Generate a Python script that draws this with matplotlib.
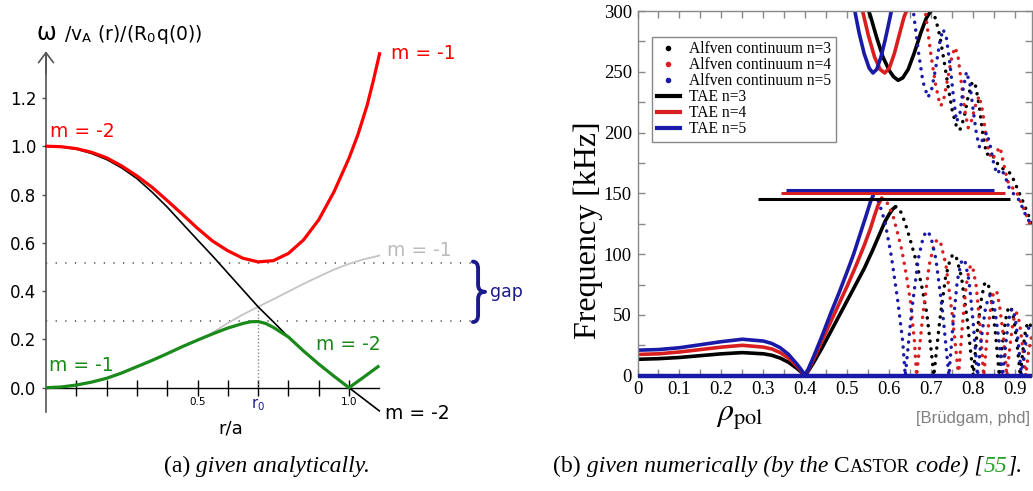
import numpy as np
import matplotlib
matplotlib.use("Agg")
import matplotlib.pyplot as plt
from matplotlib.lines import Line2D
from matplotlib.path import Path
from matplotlib.patches import PathPatch
from matplotlib.ticker import MultipleLocator

plt.rcParams['mathtext.fontset'] = 'stix'

# ---------------- panel (a): analytic continuum ----------------
red_r = [0, 0.05, 0.10, 0.15, 0.20, 0.25, 0.30, 0.35, 0.40, 0.45, 0.50, 0.55, 0.60, 0.65, 0.70,
         0.75, 0.80, 0.85, 0.90, 0.95, 1.00, 1.03, 1.06, 1.08, 1.102]
red_w = [1.0, 0.998, 0.99, 0.975, 0.952, 0.918, 0.877, 0.83, 0.775, 0.718, 0.66, 0.607, 0.567, 0.536, 0.521,
         0.526, 0.556, 0.612, 0.695, 0.81, 0.95, 1.05, 1.17, 1.27, 1.389]

black_r = [0, 0.05, 0.10, 0.15, 0.20, 0.25, 0.30, 0.35, 0.40, 0.45, 0.50, 0.55, 0.60, 0.65, 0.70,
           0.75, 0.80, 0.85, 0.90, 0.95, 1.0, 1.05, 1.1]
black_w = [1.0, 0.997, 0.988, 0.97, 0.945, 0.91, 0.866, 0.81, 0.748, 0.68, 0.612, 0.545, 0.475, 0.405, 0.335,
           0.273, 0.21, 0.152, 0.098, 0.048, 0.0, -0.048, -0.096]

gray_r = [0.55, 0.60, 0.65, 0.70, 0.75, 0.80, 0.85, 0.90, 0.95, 1.0, 1.05, 1.1]
gray_w = [0.228, 0.268, 0.303, 0.335, 0.366, 0.398, 0.43, 0.46, 0.489, 0.513, 0.532, 0.547]

green_r = [0, 0.05, 0.10, 0.15, 0.20, 0.25, 0.30, 0.35, 0.40, 0.45, 0.50, 0.55, 0.60, 0.65, 0.675,
           0.70, 0.725, 0.75, 0.775, 0.80, 0.85, 0.90, 0.95, 1.0, 1.05, 1.1]
green_w = [0, 0.003, 0.011, 0.023, 0.039, 0.061, 0.087, 0.113, 0.141, 0.17, 0.197, 0.223, 0.247, 0.266, 0.273,
           0.274, 0.266, 0.25, 0.23, 0.21, 0.152, 0.098, 0.048, 0.0, 0.045, 0.091]

gap_hi, gap_lo = 0.518, 0.276
r0, cross_w = 0.70, 0.335
a_yticks = [0.0, 0.2, 0.4, 0.6, 0.8, 1.0, 1.2]
a_xticks = [0.1, 0.2, 0.3, 0.4, 0.5, 0.6, 0.7, 0.8, 0.9, 1.0]
a_xticklabels = ['', '', '', '', '0.5', '', r'r$_\mathregular{0}$', '', '', '1.0']

# ---------------- panel (b): CASTOR continuum ----------------
rho_lo_n3 = [0, 0.05, 0.10, 0.15, 0.20, 0.25, 0.30, 0.32, 0.34, 0.36, 0.38, 0.39, 0.40,
             0.42, 0.44, 0.46, 0.48, 0.50, 0.52, 0.54, 0.56, 0.575, 0.59, 0.60, 0.608, 0.615,
             0.622, 0.63, 0.641, 0.653, 0.665, 0.677, 0.689, 0.700, 0.706,
             0.720, 0.734, 0.746, 0.753, 0.760, 0.772, 0.786, 0.800,
             0.809, 0.819, 0.826, 0.831, 0.836, 0.843, 0.853, 0.862,
             0.8695, 0.877, 0.883, 0.887, 0.891, 0.897, 0.9045, 0.912,
             0.918, 0.924, 0.929, 0.932, 0.936, 0.940]
f_lo_n3 = [13.5, 14, 15, 16.5, 18, 19, 18, 16.8, 14.5, 11, 6, 3, 0,
           11, 23, 36, 49, 62, 75, 88, 103, 115, 127, 133, 137, 139,
           138, 133, 122, 108, 93, 74, 52, 20, 0,
           45, 81, 97, 100, 97, 81, 45, 0,
           35, 62, 75, 77, 75, 62, 35, 0,
           26, 46, 55, 57, 55, 46, 26, 0,
           20, 36, 43, 44, 42, 36]

rho_lo_n4 = [0, 0.05, 0.10, 0.15, 0.20, 0.25, 0.30, 0.32, 0.34, 0.36, 0.38, 0.39, 0.40,
             0.42, 0.44, 0.46, 0.48, 0.50, 0.52, 0.54, 0.555, 0.565, 0.574, 0.582,
             0.589, 0.597, 0.61, 0.62, 0.63, 0.64, 0.65, 0.66, 0.665,
             0.68, 0.695, 0.7075, 0.715, 0.7225, 0.735, 0.75, 0.765,
             0.774, 0.783, 0.7905, 0.795, 0.7995, 0.807, 0.816, 0.825,
             0.833, 0.842, 0.848, 0.8525, 0.857, 0.863, 0.872, 0.88,
             0.887, 0.894, 0.899, 0.9025, 0.906, 0.911, 0.918, 0.925, 0.932, 0.94]
f_lo_n4 = [17.5, 18, 19.5, 21.5, 23.5, 25, 23.5, 22, 19, 14.5, 8, 4, 0,
           14, 29, 44, 59, 74, 90, 107, 121, 132, 141, 146,
           145, 141, 130, 117, 103, 84, 62, 28, 0,
           50, 91, 109, 112, 109, 91, 50, 0,
           41, 74, 88, 91, 88, 74, 41, 0,
           32, 57, 68, 70, 68, 57, 32, 0,
           23, 42, 50, 52, 50, 42, 23, 0, 20, 34]

rho_lo_n5 = [0, 0.05, 0.10, 0.15, 0.20, 0.25, 0.30, 0.32, 0.34, 0.36, 0.38, 0.39, 0.40,
             0.42, 0.44, 0.46, 0.48, 0.50, 0.515, 0.53, 0.545, 0.555, 0.561,
             0.568, 0.575, 0.59, 0.605, 0.62, 0.632, 0.638,
             0.6535, 0.669, 0.6815, 0.69, 0.6985, 0.711, 0.7265, 0.742,
             0.752, 0.762, 0.771, 0.776, 0.781, 0.79, 0.80, 0.81,
             0.819, 0.828, 0.8355, 0.84, 0.8445, 0.852, 0.861, 0.87,
             0.877, 0.884, 0.889, 0.8925, 0.896, 0.901, 0.908, 0.915,
             0.922, 0.929, 0.935, 0.94]
f_lo_n5 = [21, 21.5, 23, 25.5, 28, 30, 28.5, 26.5, 23, 17.5, 9.5, 5, 0,
           16, 33, 51, 68, 86, 100, 116, 132, 143, 148,
           147, 143, 126, 98, 62, 28, 0,
           54, 96, 115, 119, 115, 96, 54, 0,
           43, 78, 93, 96, 93, 78, 43, 0,
           30, 53, 64, 66, 64, 53, 30, 0,
           25, 45, 53, 55, 53, 45, 25, 0,
           20, 36, 42, 43]

rho_up_n3 = [0.53, 0.545, 0.555, 0.57, 0.585, 0.60, 0.61, 0.621, 0.632, 0.645, 0.66, 0.675, 0.688, 0.699,
             0.71, 0.72, 0.73, 0.74, 0.75, 0.76, 0.768, 0.778, 0.788, 0.798, 0.806, 0.815, 0.823, 0.832,
             0.842, 0.852, 0.862, 0.872, 0.882, 0.89, 0.90, 0.91, 0.92, 0.93, 0.94]
f_up_n3 = [330, 306, 296, 278, 262, 251, 246, 243, 245, 252, 266, 282, 294, 300,
           294, 280, 260, 238, 218, 205, 202, 212, 230, 242, 238, 220, 198, 182,
           183, 178, 172, 170, 168, 166, 158, 150, 142, 133, 126]

rho_up_n4 = [0.52, 0.535, 0.55, 0.565, 0.578, 0.589, 0.60, 0.612, 0.625, 0.635, 0.641, 0.65, 0.66, 0.675,
             0.68, 0.69, 0.70, 0.71, 0.718, 0.723, 0.73, 0.74, 0.75, 0.757, 0.764, 0.772, 0.78, 0.788,
             0.796, 0.805, 0.814, 0.822, 0.83, 0.838, 0.846, 0.855, 0.864, 0.872, 0.882, 0.892, 0.902,
             0.912, 0.922, 0.932, 0.94]
f_up_n4 = [330, 302, 280, 262, 252, 249, 253, 265, 282, 295, 300, 318, 330, 330,
           315, 288, 262, 240, 227, 222, 228, 246, 264, 270, 262, 240, 218, 204,
           210, 222, 230, 218, 198, 183, 178, 184, 188, 175, 160, 155, 152,
           144, 136, 128, 120]

rho_up_n5 = [0.50, 0.515, 0.528, 0.54, 0.552, 0.561, 0.57, 0.58, 0.59, 0.60, 0.605, 0.615, 0.625, 0.645,
             0.652, 0.66, 0.67, 0.68, 0.692, 0.70, 0.71, 0.72, 0.728, 0.736, 0.745, 0.752, 0.76, 0.768,
             0.776, 0.784, 0.792, 0.80, 0.808, 0.815, 0.823, 0.832, 0.84, 0.848, 0.856, 0.866, 0.875,
             0.885, 0.895, 0.905, 0.915, 0.925, 0.935, 0.94]
f_up_n5 = [330, 305, 282, 265, 253, 249, 252, 262, 276, 292, 300, 322, 330, 330,
           315, 292, 265, 242, 229, 234, 252, 274, 285, 278, 255, 232, 209, 215,
           236, 250, 240, 218, 198, 188, 195, 200, 190, 176, 166, 170, 165,
           155, 150, 147, 140, 132, 126, 122]

zero_rho = [0.0, 0.94]
zero_f = [0.0, 0.0]

tae_f = [145.5, 150.3, 153.0]
tae_start = [0.286, 0.342, 0.355]
tae_end = [0.887, 0.875, 0.849]

legend_labels = ['Alfven continuum n=3', 'Alfven continuum n=4', 'Alfven continuum n=5',
                 'TAE n=3', 'TAE n=4', 'TAE n=5']
b_xticks = [0, 0.1, 0.2, 0.3, 0.4, 0.5, 0.6, 0.7, 0.8, 0.9]
b_xticklabels = ['0', '0.1', '0.2', '0.3', '0.4', '0.5', '0.6', '0.7', '0.8', '0.9']
b_yticks = [0, 50, 100, 150, 200, 250, 300]

# ---------------- figure ----------------
W, H = 1033, 491
fig = plt.figure(figsize=(W / 100, H / 100), dpi=100)

# ---- panel (a) ----
axa = fig.add_axes([0, 0, 500 / W, 1])
axa.patch.set_visible(False)
px_r, px_w = 303.0, 241.5
r_org, w_org = 46.0, 387.7
axa.set_xlim(-r_org / px_r, (500 - r_org) / px_r)
axa.set_ylim(-(H - w_org) / px_w, w_org / px_w)

for s in ['top', 'right']:
    axa.spines[s].set_visible(False)
axa.spines['left'].set_position(('data', 0))
axa.spines['left'].set_bounds(-0.1, 1.385)
axa.spines['left'].set_color('#555555')
axa.spines['left'].set_linewidth(1.2)
axa.spines['bottom'].set_position(('data', 0))
axa.spines['bottom'].set_bounds(0, 1.1)
axa.spines['bottom'].set_color('black')
axa.spines['bottom'].set_linewidth(1.0)

axa.set_yticks(a_yticks)
axa.set_yticklabels(['%.1f' % v for v in a_yticks])
axa.tick_params(axis='y', direction='out', length=3, width=1, color='#555555', labelsize=12, pad=4)
axa.set_xticks(a_xticks)
axa.set_xticklabels(a_xticklabels)
axa.tick_params(axis='x', direction='inout', length=11, width=1, color='black', labelsize=7.5, pad=1)
lab = axa.get_xticklabels()[6]
lab.set_color('#1a1a8c')
lab.set_fontsize(10.5)

axa.annotate('', xy=(0, 1.393), xytext=(0, 1.30),
             arrowprops=dict(arrowstyle='->,head_length=0.4,head_width=0.3', color='#555555', lw=1.2,
                             shrinkA=0, shrinkB=0, mutation_scale=18))

axa.hlines([gap_hi, gap_lo], 0, 1.41, colors='#444444', linestyles=(0, (0.8, 5.5)), lw=1.1)
axa.vlines(r0, 0, cross_w, colors='#888888', linestyles=(0, (1, 1.5)), lw=1.0)

axa.plot(gray_r, gray_w, color='#c4c4c4', lw=1.3, zorder=2)
axa.plot(black_r, black_w, color='black', lw=1.2, zorder=3)
axa.plot(red_r, red_w, color='#ff0000', lw=2.3, zorder=4, solid_capstyle='butt', solid_joinstyle='round')
axa.plot(green_r, green_w, color='#1a8a1a', lw=2.3, zorder=4, solid_capstyle='butt', solid_joinstyle='round')

# brace marking the gap
x0, xs, xt = 1.409, 1.426, 1.449
mid = 0.5 * (gap_hi + gap_lo)
top, bot, d = gap_hi + 0.004, gap_lo - 0.004, 0.03
verts = [(x0, top), (xs, top), (xs, top - d), (xs, mid + d), (xs, mid), (xt, mid), (xs, mid),
         (xs, mid - d), (xs, bot + d), (xs, bot), (x0, bot)]
codes = [Path.MOVETO, Path.CURVE3, Path.CURVE3, Path.LINETO, Path.CURVE3, Path.CURVE3, Path.CURVE3,
         Path.CURVE3, Path.LINETO, Path.CURVE3, Path.CURVE3]
axa.add_patch(PathPatch(Path(verts, codes), fill=False, edgecolor='#1a1a8c', lw=2.8,
                        capstyle='round', joinstyle='round', clip_on=False))
axa.text(1.465, mid, 'gap', color='#1a1a8c', fontsize=12.5, va='center', ha='left')

lab_fs = 13.5
axa.text(0.013, 1.062, 'm = -2', color='#ff0000', fontsize=lab_fs, va='center', ha='left')
axa.text(1.137, 1.384, 'm = -1', color='#ff0000', fontsize=lab_fs, va='center', ha='left')
axa.text(1.124, 0.57, 'm = -1', color='#bbbbbb', fontsize=lab_fs, va='center', ha='left')
axa.text(0.011, 0.09, 'm = -1', color='#1a8a1a', fontsize=lab_fs, va='center', ha='left')
axa.text(0.891, 0.177, 'm = -2', color='#1a8a1a', fontsize=lab_fs, va='center', ha='left')
axa.text(1.119, -0.105, 'm = -2', color='black', fontsize=lab_fs, va='center', ha='left')
axa.text(0.61, -0.168, 'r/a', color='black', fontsize=13, va='center', ha='center')

axa.text(-0.033, 1.44, '\u03c9', fontsize=17, va='baseline', ha='left')
axa.text(0.059, 1.44, r'/v$_\mathregular{A}$ (r)/(R$_\mathregular{0}$q(0))', fontsize=13.5,
         va='baseline', ha='left')

# ---- panel (b) ----
L, R, T, B = 637.5, 1032.0, 11.0, 375.7
axb = fig.add_axes([L / W, (H - B) / H, (R - L) / W, (B - T) / H])
axb.set_xlim(0, 0.94)
axb.set_ylim(0, 300)

col = {3: '#000000', 4: '#d81e1e', 5: '#1a1aa8'}
lo = {3: (rho_lo_n3, f_lo_n3, 0.615), 4: (rho_lo_n4, f_lo_n4, 0.582), 5: (rho_lo_n5, f_lo_n5, 0.561)}
up = {3: (rho_up_n3, f_up_n3, 0.699), 4: (rho_up_n4, f_up_n4, 0.641), 5: (rho_up_n5, f_up_n5, 0.605)}
dot_ls = (0, (0.05, 2.2))
for n in [3, 4, 5]:
    for rr, ff, split in (lo[n], up[n]):
        rr = np.asarray(rr)
        ff = np.asarray(ff)
        i = int(np.argmin(np.abs(rr - split)))
        axb.plot(rr[:i + 1], ff[:i + 1], color=col[n], lw=2.6, solid_capstyle='round',
                 solid_joinstyle='round', zorder=2 + n * 0.1)
        axb.plot(rr[i:], ff[i:], color=col[n], lw=2.5, ls=dot_ls, dash_capstyle='round', zorder=2 + n * 0.1)

for n, f, a, b in zip([3, 4, 5], tae_f, tae_start, tae_end):
    axb.plot([a, b], [f, f], color=col[n], lw=2.2, solid_capstyle='butt', zorder=3)

axb.plot(zero_rho, zero_f, color='#1a1aa8', lw=3.2, clip_on=False, zorder=4, solid_capstyle='butt')

for s in axb.spines.values():
    s.set_color('#888888')
    s.set_linewidth(1.0)
axb.set_xticks(b_xticks)
axb.set_xticklabels(b_xticklabels)
axb.xaxis.set_minor_locator(MultipleLocator(0.05))
axb.set_yticks(b_yticks)
axb.set_yticklabels([str(v) for v in b_yticks])
axb.yaxis.set_minor_locator(MultipleLocator(25))
axb.tick_params(which='both', direction='in', top=True, right=True, length=5, width=1, color='#888888')
axb.tick_params(which='major', labelsize=13.5, pad=4)
for t in axb.get_xticklabels() + axb.get_yticklabels():
    t.set_family('Liberation Serif')

axb.set_ylabel('Frequency [kHz]', fontsize=23, family='Liberation Serif')
axb.yaxis.label.set_va('center')
axb.yaxis.set_label_coords(-0.125, 0.40)
axb.set_xlabel(r'$\rho_{\mathrm{pol}}$', fontsize=23)
axb.xaxis.label.set_va('center')
axb.xaxis.set_label_coords(0.26, -0.112)
axb.text(0.995, -0.116, '[Br\u00fcdgam, phd]', transform=axb.transAxes, ha='right', va='center',
         color='#808080', fontsize=12, family='Liberation Sans')

handles = [Line2D([], [], ls='none', marker='o', ms=3, color=col[n]) for n in [3, 4, 5]] + \
          [Line2D([], [], color=col[n], lw=3) for n in [3, 4, 5]]
leg = axb.legend(handles, legend_labels, loc='upper left', bbox_to_anchor=(0.0375, 0.9295),
                 borderaxespad=0, prop={'family': 'Liberation Serif', 'size': 11.2}, frameon=True,
                 fancybox=False, edgecolor='#888888', handlelength=1.45, handletextpad=0.6,
                 labelspacing=0.0, borderpad=0.3, framealpha=1)
leg.get_frame().set_linewidth(1.0)

# ---- captions ----
def caption(parts, xc_px, base_px):
    texts = [fig.text(0, (H - base_px) / H, s, va='baseline', ha='left', **kw) for s, kw in parts]
    rend = fig.canvas.get_renderer()
    widths = [t.get_window_extent(rend).width for t in texts]
    x = xc_px - sum(widths) / 2
    for t, w in zip(texts, widths):
        t.set_x(x / W)
        x += w

cfs = 17
up_kw = dict(family='Liberation Serif', fontsize=cfs)
it_kw = dict(family='Liberation Serif', fontsize=cfs, style='italic')
caption([('(a)', up_kw), (' given analytically.', it_kw)], 266.7, 471.7)
caption([('(b)', up_kw), (' given numerically (by the', it_kw), (' C', up_kw),
         ('ASTOR', dict(family='Liberation Serif', fontsize=cfs * 0.78)),
         (' code) [', it_kw), ('55', dict(it_kw, color='#2aa02a')), ('].', it_kw)], 788, 471.7)

fig.savefig('out.png', dpi=100)
